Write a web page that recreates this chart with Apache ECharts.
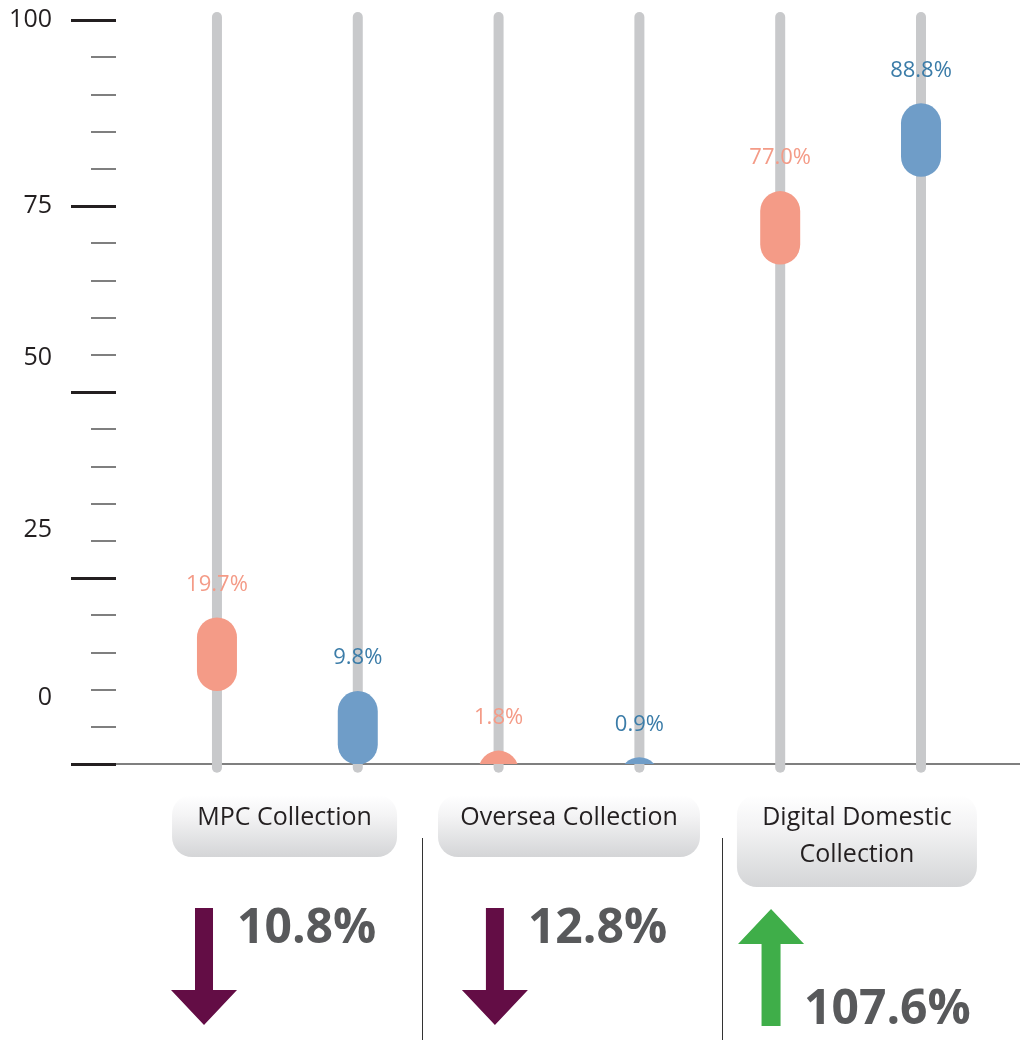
<!DOCTYPE html>
<html><head><meta charset="utf-8">
<script src="https://cdn.jsdelivr.net/npm/echarts@6/dist/echarts.min.js"></script>
<style>html,body{margin:0;padding:0;background:#fff}#c{width:1020px;height:1040px}</style>
</head><body><div id="c"></div>
<script>
// ---- data ----
const categories = ['MPC Collection', 'Oversea Collection', 'Digital Domestic Collection'];
const categoryLines = [['MPC Collection'], ['Oversea Collection'], ['Digital Domestic', 'Collection']];
const salmonValues = [19.7, 1.8, 77.0];
const blueValues = [9.8, 0.9, 88.8];
const changeValues = [-10.8, -12.8, 107.6];
const yTickLabels = ['100', '75', '50', '25', '0'];
const yTickLabelValues = [100, 75, 54.6, 31.5, 8.9];

// ---- styles / layout ----
const SALMON = '#f49b87', SALMON_TXT = '#f49b87';
const BLUE = '#6f9dc8', BLUE_TXT = '#3b7ca8';
const TRACK = '#c8c9cb';
const TRACK_TOP = 100.4, TRACK_BOTTOM = -0.5;
const PILL_W = 40, PILL_H = 73.5;
const FONT = '"Open Sans", "DejaVu Sans", sans-serif';
const BOX_W = [225, 262, 240];
const BOX_CX = [0.48, 2.5, 4.545];      // in x-axis units
const ARROW_CX = [-0.092, 1.974, 3.935]; // in x-axis units
const SEP_X = [1.455, 3.585];            // in x-axis units

const chart = echarts.init(document.getElementById('c'), null, {renderer: 'canvas'});

const trackData = [];
categories.forEach((c, g) => { trackData.push([2 * g]); trackData.push([2 * g + 1]); });
const salmonData = salmonValues.map((v, g) => [2 * g, v]);
const blueData = blueValues.map((v, g) => [2 * g + 1, v]);

function pillRenderer(fill, txtColor) {
  return function (params, api) {
    const p = api.coord([api.value(0), api.value(1)]);
    return {
      type: 'group',
      children: [
        {type: 'rect', shape: {x: p[0] - PILL_W / 2, y: p[1], width: PILL_W, height: PILL_H, r: PILL_W / 2}, style: {fill: fill}},
        {type: 'text', style: {text: api.value(1).toFixed(1) + '%', x: p[0], y: p[1] - 33, align: 'center', verticalAlign: 'middle', fill: txtColor, fontSize: 22, fontWeight: 500, fontFamily: FONT}}
      ]
    };
  };
}

chart.setOption({
  animation: false,
  grid: {left: 116, right: 0, top: 20, bottom: 276},
  xAxis: {
    type: 'value', min: -0.717, max: 5.703,
    axisLine: {show: true, onZero: false, lineStyle: {color: '#555', width: 1.5}},
    axisTick: {show: false}, axisLabel: {show: false}, splitLine: {show: false}
  },
  yAxis: {
    type: 'value', min: 0, max: 100, interval: 25,
    axisLine: {show: false, onZero: false},
    axisTick: {show: true, length: 45, lineStyle: {color: '#231f20', width: 3}},
    minorTick: {show: true, splitNumber: 5, length: 25, lineStyle: {color: '#555', width: 1.5}},
    splitLine: {show: false}, minorSplitLine: {show: false},
    axisLabel: {
      show: true, customValues: yTickLabelValues, margin: 64,
      fontSize: 25, color: '#231f20', fontFamily: FONT,
      formatter: function (v) {
        const i = yTickLabelValues.findIndex(t => Math.abs(t - v) < 1e-6);
        return i >= 0 ? yTickLabels[i] : '';
      }
    }
  },
  series: [
    {
      type: 'custom', name: 'track', data: trackData, clip: false, z: 1,
      renderItem: function (params, api) {
        const a = api.coord([api.value(0), TRACK_TOP]);
        const b = api.coord([api.value(0), TRACK_BOTTOM]);
        return {type: 'line', shape: {x1: a[0], y1: a[1], x2: b[0], y2: b[1]}, style: {stroke: TRACK, lineWidth: 10, lineCap: 'round'}};
      }
    },
    {type: 'custom', name: 'salmon', data: salmonData, clip: true, z: 2, renderItem: pillRenderer(SALMON, SALMON_TXT)},
    {type: 'custom', name: 'blue', data: blueData, clip: true, z: 2, renderItem: pillRenderer(BLUE, BLUE_TXT)}
  ]
});

// ---- decorations below the axis ----
const px = x => chart.convertToPixel({xAxisIndex: 0, yAxisIndex: 0}, [x, 0])[0];
const graphics = [];
categories.forEach((c, g) => {
  const cx = px(BOX_CX[g]);
  const lines = categoryLines[g];
  const h = lines.length > 1 ? 92 : 62;
  graphics.push({
    type: 'rect', shape: {x: cx - BOX_W[g] / 2, y: 795, width: BOX_W[g], height: h, r: 20},
    style: {fill: {type: 'linear', x: 0, y: 0, x2: 0, y2: 1, colorStops: [{offset: 0, color: '#ffffff'}, {offset: 0.35, color: '#f3f3f4'}, {offset: 1, color: '#d4d5d7'}]}}
  });
  lines.forEach((t, k) => {
    graphics.push({type: 'text', style: {text: t, x: cx, y: 818 + k * 37, align: 'center', verticalAlign: 'middle', fill: '#231f20', fontSize: 25, fontFamily: FONT}});
  });
  const ax = px(ARROW_CX[g]);
  const v = changeValues[g];
  let pts;
  if (v < 0) {
    pts = [[ax - 9, 908], [ax + 9, 908], [ax + 9, 990], [ax + 33, 990], [ax, 1025], [ax - 33, 990], [ax - 9, 990]];
  } else {
    pts = [[ax, 909], [ax + 33, 944], [ax + 9.5, 944], [ax + 9.5, 1026], [ax - 9.5, 1026], [ax - 9.5, 944], [ax - 33, 944]];
  }
  graphics.push({type: 'polygon', shape: {points: pts}, style: {fill: v < 0 ? '#630d45' : '#3fae49'}});
  graphics.push({type: 'text', style: {text: Math.abs(v).toFixed(1) + '%', x: ax + 33, y: v < 0 ? 929 : 1010, align: 'left', verticalAlign: 'middle', fill: '#58595b', fontSize: 48, fontWeight: 'bold', fontFamily: FONT}});
});
SEP_X.forEach(s => {
  const x = Math.round(px(s)) + 0.5;
  graphics.push({type: 'line', shape: {x1: x, y1: 838, x2: x, y2: 1040}, style: {stroke: '#333', lineWidth: 1}});
});
chart.setOption({graphic: graphics});
</script>
</body></html>
